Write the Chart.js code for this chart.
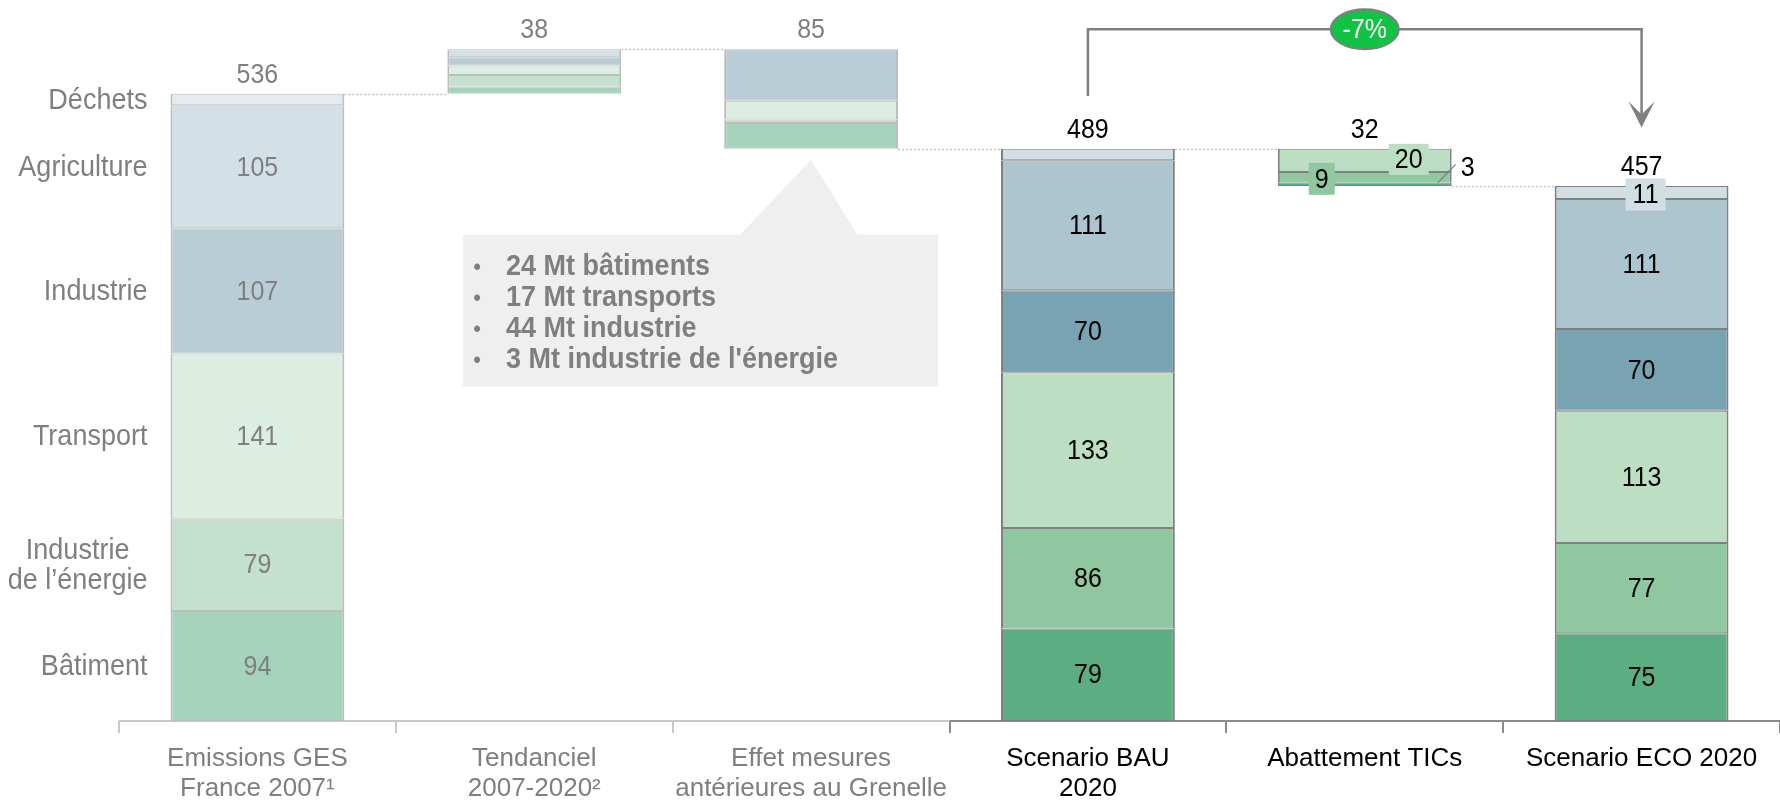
<!DOCTYPE html>
<html>
<head>
<meta charset="utf-8">
<script src="https://cdn.jsdelivr.net/npm/chart.js@4/dist/chart.umd.min.js"></script>
<style>
  html, body { margin: 0; padding: 0; background: #fff; }
  #wrap { width: 1780px; height: 803px; position: relative; }
</style>
</head>
<body>
<div id="wrap"><canvas id="chart"></canvas></div>
<script>
// ===== DATA =====
const categories = [
    ['Emissions GES', 'France 2007¹'],
    ['Tendanciel', '2007-2020²'],
    ['Effet mesures', 'antérieures au Grenelle'],
    ['Scenario BAU', '2020'],
    ['Abattement TICs'],
    ['Scenario ECO 2020']
];

// stacking order, bottom to top
const sectorNames = ['Bâtiment', ['Industrie', 'de l’énergie'], 'Transport', 'Industrie', 'Agriculture', 'Déchets'];

const batiment    = [94,   6, 22,  79,  3,  75];
const energie     = [79,  10,  3,  86,  9,  77];
const transport   = [141,  8, 16, 133, 20, 113];
const industrie   = [107,  7, 44,  70,  0,  70];
const agriculture = [105,  7,  0, 111,  0, 111];
const dechets     = [10,   0,  0,  10,  0,  11];

const totals = [536, 38, 85, 489, 32, 457];
const bases  = [0, 536, 489, 0, 457, 0];          // where each floating column starts
const connectorLevels = [536, 574, 489, 489, 457]; // dotted link between column i and i+1

const bracketLabel = '-7%';
const bracketTop = 591;       // value level of the -7% bracket
const bracketStart = 534;     // left leg ends here (above BAU)
const bracketArrowTip = 507;  // arrow tip (above ECO)

const calloutLines = [
    '24 Mt bâtiments',
    '17 Mt transports',
    '44 Mt industrie',
    "3 Mt industrie de l'énergie"
];

// ===== STYLE =====
const lightColors = ['#a6d3bb', '#c4e1d0', '#dcede1', '#b8cdd5', '#d3e0e5', '#e4ecef'];
const darkColors  = ['#5aae82', '#8fc7a0', '#bcdfc4', '#78a3b3', '#adc5cf', '#d1dee4'];
const isScenario  = [false, false, false, true, true, true];
const GREY = '#7f7f7f';
const FONT = '"Liberation Sans", Arial, sans-serif';
const STRETCH = 1.12; // reference text is slightly taller than wide

Chart.defaults.font.family = FONT;

// build floating [start, end] ranges for each sector, column by column
const sectorValues = [batiment, energie, transport, industrie, agriculture, dechets];
const running = bases.slice();
const ranges = sectorValues.map(vals => vals.map((v, c) => {
    if (!v) return null;
    const r = [running[c], running[c] + v];
    running[c] += v;
    return r;
}));

function txt(ctx, s, x, y, size, color, opts = {}) {
    ctx.save();
    ctx.translate(x, y);
    ctx.scale(1, STRETCH);
    ctx.font = `${opts.bold ? 'bold ' : ''}${size}px ${FONT}`;
    ctx.fillStyle = color;
    ctx.textAlign = opts.align || 'center';
    ctx.textBaseline = opts.baseline || 'middle';
    ctx.fillText(s, 0, 0);
    ctx.restore();
}

// ===== PLUGIN: connectors, callout, axis line =====
const underlay = {
    id: 'underlay',
    beforeDatasetsDraw(chart) {
        const { ctx, chartArea, scales: { x, y } } = chart;
        const meta = chart.getDatasetMeta(0);

        // dotted connectors
        ctx.save();
        ctx.strokeStyle = '#c4c4c4';
        ctx.lineWidth = 1.5;
        ctx.setLineDash([2, 2]);
        connectorLevels.forEach((lvl, i) => {
            const half = meta.data[i] ? meta.data[i].width / 2 : 87;
            const x1 = x.getPixelForValue(i) + half;
            const x2 = x.getPixelForValue(i + 1) - half;
            const py = Math.round(y.getPixelForValue(lvl)) + 0.5;
            ctx.beginPath();
            ctx.moveTo(x1, py);
            ctx.lineTo(x2, py);
            ctx.stroke();
        });
        ctx.restore();

        // callout under "Effet mesures"
        const ax = x.getPixelForValue(2);
        const ay = y.getPixelForValue(bases[2]) + 11;
        const top = ay + 75;
        ctx.save();
        ctx.fillStyle = '#efefef';
        ctx.fillRect(ax - 348, top, 475, 152);
        ctx.beginPath();
        ctx.moveTo(ax, ay);
        ctx.lineTo(ax + 47, top + 1);
        ctx.lineTo(ax - 72, top + 1);
        ctx.closePath();
        ctx.fill();
        ctx.restore();
        calloutLines.forEach((line, i) => {
            const by = top + 40 + i * 31;
            txt(ctx, '•', ax - 334, by, 22, GREY, { baseline: 'alphabetic' });
            txt(ctx, line, ax - 305, by, 27, GREY, { bold: true, align: 'left', baseline: 'alphabetic' });
        });

        // category axis line: light for 2007 side, dark for scenarios
        const split = x.getPixelForValue(3) - (x.getPixelForValue(1) - x.getPixelForValue(0)) / 2;
        ctx.save();
        ctx.lineWidth = 2;
        ctx.strokeStyle = '#c8c8c8';
        ctx.beginPath();
        ctx.moveTo(chartArea.left, chartArea.bottom);
        ctx.lineTo(split, chartArea.bottom);
        ctx.stroke();
        ctx.strokeStyle = '#8c8c8c';
        ctx.beginPath();
        ctx.moveTo(split, chartArea.bottom);
        ctx.lineTo(chartArea.right, chartArea.bottom);
        ctx.stroke();
        ctx.restore();
    }
};

// ===== PLUGIN: value labels, sector names, -7% bracket =====
const overlay = {
    id: 'overlay',
    afterDatasetsDraw(chart) {
        const { ctx, scales: { x, y } } = chart;
        const el = (s, c) => chart.getDatasetMeta(s).data[c];
        const mid = e => (e.y + e.base) / 2;

        // totals above columns
        totals.forEach((t, c) => {
            const topVal = bases[c] + t;
            const py = y.getPixelForValue(topVal) - 11;
            txt(ctx, String(t), x.getPixelForValue(c), py, 25, isScenario[c] ? '#000' : GREY, { baseline: 'alphabetic' });
        });

        // segment values on full columns (déchets left unlabelled except ECO)
        [0, 3, 5].forEach(c => {
            sectorValues.forEach((vals, s) => {
                if (!vals[c] || s === 5) return;
                const e = el(s, c);
                txt(ctx, String(vals[c]), e.x, mid(e) + 1, 25, isScenario[c] ? '#000' : GREY);
            });
        });

        // boxed labels
        function boxed(value, cx, cy, w, h, fill) {
            ctx.save();
            ctx.fillStyle = fill;
            ctx.fillRect(cx - w / 2, cy - h / 2, w, h);
            ctx.restore();
            txt(ctx, String(value), cx, cy + 1, 25, '#000');
        }
        const eco = el(5, 5);
        boxed(dechets[5], eco.x + 4, mid(eco) + 2, 40, 32, darkColors[5]);

        // abatement column labels
        const eT = el(2, 4), eE = el(1, 4), eB = el(0, 4);
        boxed(transport[4], eT.x + 44, mid(eT) - 1, 40, 31, darkColors[2]);
        boxed(energie[4], eE.x - 43, mid(eE) + 1.5, 26, 32, darkColors[1]);
        const right = eB.x + eB.width / 2;
        ctx.save();
        ctx.strokeStyle = GREY;
        ctx.lineWidth = 1.2;
        ctx.beginPath();
        ctx.moveTo(right - 14, mid(eB) - 1.5);
        ctx.lineTo(right + 4, mid(eB) - 20);
        ctx.stroke();
        ctx.restore();
        txt(ctx, String(batiment[4]), right + 16, mid(eB) - 16, 25, '#000');

        // sector names left of the first column
        const rightEdge = x.getPixelForValue(0) - 110;
        ctx.save();
        ctx.font = `27px ${FONT}`;
        sectorNames.forEach((name, s) => {
            const e = el(s, 0);
            const lines = Array.isArray(name) ? name : [name];
            const wMax = Math.max(...lines.map(l => ctx.measureText(l).width));
            const cx = rightEdge - wMax / 2;
            lines.forEach((l, i) => {
                const ly = mid(e) + 1 + (i - (lines.length - 1) / 2) * 30;
                txt(ctx, l, cx, ly, 27, GREY);
            });
        });
        ctx.restore();

        // -7% bracket from BAU to ECO
        const bx1 = x.getPixelForValue(3), bx2 = x.getPixelForValue(5);
        const by = y.getPixelForValue(bracketTop);
        const tipY = y.getPixelForValue(bracketArrowTip);
        ctx.save();
        ctx.strokeStyle = GREY;
        ctx.fillStyle = GREY;
        ctx.lineWidth = 2.5;
        ctx.beginPath();
        ctx.moveTo(bx1, y.getPixelForValue(bracketStart));
        ctx.lineTo(bx1, by);
        ctx.lineTo(bx2, by);
        ctx.lineTo(bx2, tipY - 12);
        ctx.stroke();
        ctx.beginPath();
        ctx.moveTo(bx2, tipY);
        ctx.lineTo(bx2 - 13, tipY - 26);
        ctx.lineTo(bx2, tipY - 13);
        ctx.lineTo(bx2 + 13, tipY - 26);
        ctx.closePath();
        ctx.fill();

        const ex = (bx1 + bx2) / 2;
        ctx.beginPath();
        ctx.ellipse(ex, by, 34, 20, 0, 0, Math.PI * 2);
        ctx.fillStyle = '#12c244';
        ctx.fill();
        ctx.lineWidth = 2;
        ctx.stroke();
        ctx.restore();
        txt(ctx, bracketLabel, ex, by + 1, 25, '#fff');
    }
};

// ===== CHART =====
const datasets = ranges.map((data, s) => ({
    label: Array.isArray(sectorNames[s]) ? sectorNames[s].join(' ') : sectorNames[s],
    data: data,
    backgroundColor: categories.map((_, c) => isScenario[c] ? darkColors[s] : lightColors[s]),
    borderColor: categories.map((_, c) => isScenario[c] ? '#808080' : '#bdbdbd'),
    borderWidth: { top: 1, bottom: 1, left: 2, right: 2 },
    borderSkipped: false,
    barPercentage: 0.628,
    categoryPercentage: 1
}));

new Chart(document.getElementById('chart'), {
    type: 'bar',
    data: { labels: categories, datasets: datasets },
    options: {
        responsive: true,
        maintainAspectRatio: false,
        animation: false,
        layout: { padding: { left: 119, right: 0, top: 0, bottom: 0 } },
        plugins: { legend: { display: false }, tooltip: { enabled: false } },
        scales: {
            x: {
                stacked: true,
                grid: {
                    offset: true,
                    drawOnChartArea: false,
                    drawTicks: true,
                    tickLength: 12,
                    lineWidth: 2,
                    color: c => c.index < 3 ? '#c8c8c8' : '#8c8c8c'
                },
                border: { display: false },
                ticks: {
                    color: c => c.index < 3 ? GREY : '#000',
                    font: { size: 26, lineHeight: 1.14 },
                    padding: 11,
                    maxRotation: 0,
                    minRotation: 0,
                    autoSkip: false
                },
                afterFit(scale) { scale.height = 82; }
            },
            y: { display: false, stacked: false, min: 0, max: 616 }
        }
    },
    plugins: [underlay, overlay]
});
</script>
</body>
</html>
